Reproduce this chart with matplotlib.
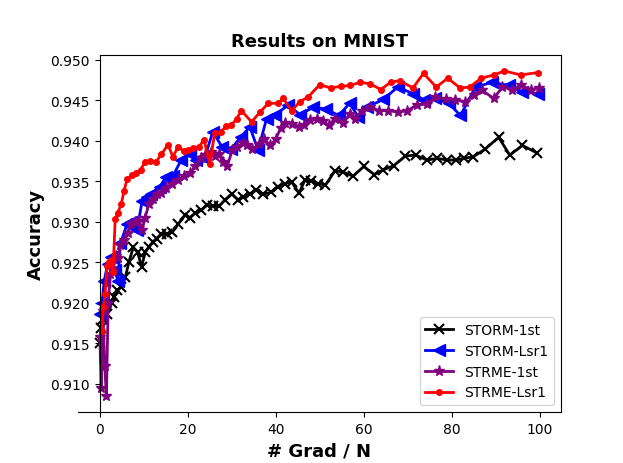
import matplotlib
matplotlib.use("Agg")
import matplotlib.pyplot as plt

storm1_x = [0.0,0.3,0.8,1.7,2.7,3.3,4.0,4.9,5.8,6.6,
            7.6,8.6,9.5,10.3,11.2,12.1,12.9,14.0,15.2,16.5,
            17.8,19.4,20.5,21.6,23.0,24.3,25.8,27.1,28.5,30.0,
            31.4,32.6,34.1,35.6,37.1,38.9,40.4,42.1,43.6,45.3,
            46.6,48.1,49.7,51.3,53.5,55.4,57.6,60.0,62.4,64.5,
            66.8,69.5,71.8,74.4,76.7,79.0,80.9,82.8,84.9,87.5,
            90.7,93.2,96.1,99.3]
storm1_y = [0.9150,0.9168,0.9180,0.9186,0.9200,0.9207,0.9215,0.9219,0.9231,0.9250,
            0.9268,0.9262,0.9244,0.9262,0.9269,0.9275,0.9279,0.9285,0.9285,0.9287,
            0.9297,0.9308,0.9305,0.9310,0.9314,0.9320,0.9319,0.9319,0.9327,0.9334,
            0.9327,0.9330,0.9334,0.9339,0.9334,0.9336,0.9343,0.9347,0.9349,0.9335,
            0.9351,0.9350,0.9347,0.9345,0.9363,0.9361,0.9356,0.9368,0.9358,0.9364,
            0.9369,0.9381,0.9382,0.9376,0.9378,0.9376,0.9376,0.9378,0.9380,0.9389,
            0.9404,0.9382,0.9394,0.9385]

stormL_x = [0.0,0.5,1.0,1.8,2.6,3.4,4.1,4.7,6.2,7.1,
            8.5,9.6,10.8,11.7,13.6,15.1,16.6,18.5,20.4,21.9,
            23.8,25.7,27.8,29.9,32.0,34.1,36.0,37.9,39.8,42.8,
            45.5,48.5,51.4,54.3,56.8,58.8,60.7,64.5,67.7,71.2,
            73.8,76.3,79.3,82.0,85.4,89.2,93.0,96.1,99.6]
stormL_y = [0.9186,0.9200,0.9227,0.9248,0.9256,0.9240,0.9227,0.9273,0.9297,0.9299,
            0.9290,0.9325,0.9330,0.9334,0.9343,0.9355,0.9356,0.9376,0.9384,0.9376,
            0.9378,0.9411,0.9392,0.9390,0.9404,0.9417,0.9388,0.9427,0.9431,0.9444,
            0.9432,0.9441,0.9439,0.9431,0.9446,0.9429,0.9441,0.9451,0.9466,0.9458,
            0.9450,0.9452,0.9446,0.9431,0.9466,0.9472,0.9468,0.9460,0.9458]

strme1_x = [0.0,0.3,0.7,1.1,1.5,1.9,2.4,3.0,3.6,4.1,
            4.7,5.6,6.4,7.1,7.9,8.6,9.6,10.3,11.2,12.1,
            13.0,14.0,15.1,16.3,17.8,19.1,20.6,21.6,23.0,24.0,
            25.3,26.2,27.1,27.9,29.0,30.1,31.3,32.6,33.5,34.7,
            36.2,37.3,38.8,40.0,41.1,42.2,43.8,45.3,46.4,47.9,
            49.4,50.8,52.0,53.5,55.4,56.9,58.0,59.6,61.5,63.4,
            65.6,67.9,69.9,72.1,74.4,76.3,78.6,80.8,83.1,85.0,
            86.9,89.6,91.5,93.8,95.7,98.0,99.8]
strme1_y = [0.9158,0.9095,0.9190,0.9122,0.9085,0.9200,0.9235,0.9240,0.9258,0.9255,
            0.9271,0.9277,0.9286,0.9297,0.9299,0.9301,0.9289,0.9305,0.9322,0.9328,
            0.9334,0.9335,0.9341,0.9347,0.9351,0.9356,0.9360,0.9368,0.9378,0.9382,
            0.9386,0.9381,0.9384,0.9373,0.9369,0.9388,0.9392,0.9397,0.9395,0.9389,
            0.9396,0.9402,0.9394,0.9402,0.9415,0.9422,0.9421,0.9417,0.9419,0.9425,
            0.9427,0.9424,0.9419,0.9427,0.9422,0.9433,0.9427,0.9437,0.9442,0.9437,
            0.9437,0.9435,0.9437,0.9444,0.9445,0.9454,0.9451,0.9450,0.9448,0.9456,
            0.9462,0.9452,0.9466,0.9463,0.9468,0.9463,0.9465]

strmeL_x = [0.5,0.8,1.2,1.6,2.0,2.5,3.0,3.5,4.1,4.9,
            5.5,6.2,7.3,8.3,9.3,10.2,11.3,12.8,14.0,15.5,
            16.6,17.8,19.1,20.0,21.2,22.5,23.7,25.0,26.1,27.5,
            28.8,29.9,31.1,32.2,34.5,36.4,38.3,40.5,41.7,43.6,
            45.5,47.4,50.0,52.5,54.8,56.9,59.2,61.5,63.9,66.1,
            68.2,71.2,73.6,76.5,79.1,81.9,84.1,86.7,89.6,92.0,
            95.7,99.6]
strmeL_y = [0.9165,0.9195,0.9210,0.9245,0.9250,0.9252,0.9238,0.9303,0.9311,0.9322,
            0.9338,0.9352,0.9357,0.9360,0.9364,0.9373,0.9375,0.9374,0.9383,0.9395,
            0.9380,0.9392,0.9387,0.9388,0.9391,0.9392,0.9401,0.9371,0.9409,0.9411,
            0.9418,0.9419,0.9427,0.9437,0.9423,0.9435,0.9446,0.9446,0.9452,0.9437,
            0.9448,0.9454,0.9469,0.9465,0.9467,0.9468,0.9472,0.9470,0.9463,0.9472,
            0.9474,0.9465,0.9483,0.9466,0.9477,0.9465,0.9466,0.9477,0.9481,0.9486,
            0.9481,0.9484]

labels = ["STORM-1st", "STORM-Lsr1", "STRME-1st", "STRME-Lsr1"]

fig, ax = plt.subplots(figsize=(6.23, 4.64), dpi=100)
ax.plot(storm1_x, storm1_y, color="black", marker="x", ms=7, lw=2, mew=1.5, label=labels[0])
ax.plot(stormL_x, stormL_y, color="blue", marker="<", ms=8, lw=2, label=labels[1])
ax.plot(strme1_x, strme1_y, color="purple", marker="*", ms=8, lw=2, label=labels[2])
ax.plot(strmeL_x, strmeL_y, color="red", marker=".", ms=8, lw=2, label=labels[3])

ax.spines["left"].set_position(("data", 0))
xl = ax.get_xlim()
ax.spines["top"].set_bounds(0, xl[1])
ax.set_xlim(xl)

ax.set_title("Results on MNIST", fontsize=13, fontweight="bold")
ax.set_xlabel("# Grad / N", fontsize=13, fontweight="bold")
ax.set_ylabel("Accuracy", fontsize=13, fontweight="bold")
ax.legend(loc="lower right", numpoints=1)

fig.savefig("out.png", dpi=100)
